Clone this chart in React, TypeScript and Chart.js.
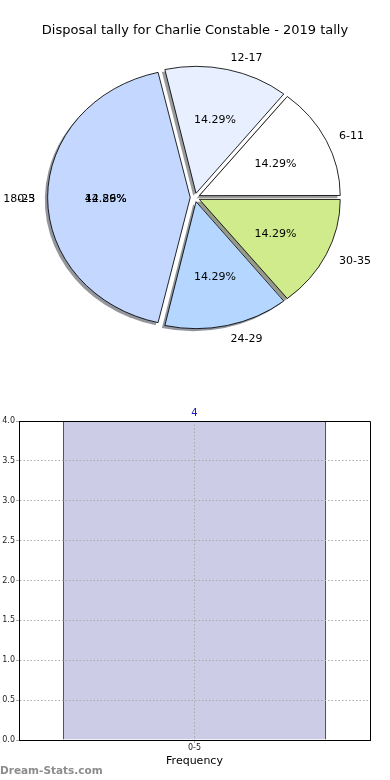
import React, { useEffect, useRef } from 'react';
import { Chart, registerables } from 'chart.js';

Chart.register(...registerables);

const TITLE = 'Disposal tally for Charlie Constable - 2019 tally';

// pie data (matplotlib order, counter-clockwise from 3 o'clock)
const pieCategories = ['6-11', '12-17', '0-5', '24-29', '30-35'];
const pieValues = [1, 1, 3, 1, 1];
const pieColors = ['#ffffff', '#e8f0ff', '#c4d8ff', '#b5d6ff', '#cfeb8b'];
// a second label printed on top of the big wedge in the original
const overlapCategory = '18-23';
const overlapValue = 1;
const overlapHost = '0-5';

// bar data
const barCategories = ['0-5'];
const barValues = [4];
const yTickValues = [0, 0.5, 1, 1.5, 2, 2.5, 3, 3.5, 4];
const xAxisTitle = 'Frequency';
const WATERMARK = 'Dream-Stats.com';

const FAMILY = '"DejaVu Sans", sans-serif';
Chart.defaults.font.family = FAMILY;

const R = 126;
const K = 141 / 127;
const EXPLODE = 4.3;
const SHADOW_DX = -2.8;
const SHADOW_DY = 2.5;
const TEXT_DY = 1.5;

function shadowColor(hex: string) {
  const h = hex.replace('#', '');
  const r = parseInt(h.slice(0, 2), 16);
  const g = parseInt(h.slice(2, 4), 16);
  const b = parseInt(h.slice(4, 6), 16);
  return `rgba(${Math.round(r * 0.3)},${Math.round(g * 0.3)},${Math.round(b * 0.3)},0.55)`;
}

function arcGeom(arc: any) {
  const p = arc.getProps(['x', 'y', 'startAngle', 'endAngle', 'outerRadius', 'circumference']);
  const t = (arc.options.offset || 0) / 4;
  const fix = 1 - Math.sin(Math.min(Math.PI, p.circumference || 0));
  const mid = (p.startAngle + p.endAngle) / 2;
  return { ...p, t, r: p.outerRadius + t * fix, mid };
}

const piePlugin = {
  id: 'ellipsePie',
  beforeDatasetsDraw(chart: any) {
    const ctx = chart.ctx;
    const meta = chart.getDatasetMeta(0);
    const a0 = meta.data[0];
    const cx = a0.x;
    const cy = a0.y;
    ctx.save();
    ctx.translate(cx, cy);
    ctx.scale(K, 1);
    ctx.translate(-cx, -cy);
    meta.data.forEach((arc: any) => {
      const g = arcGeom(arc);
      const ox = g.x + Math.cos(g.mid) * g.t + SHADOW_DX / K;
      const oy = g.y + Math.sin(g.mid) * g.t + SHADOW_DY;
      ctx.beginPath();
      ctx.moveTo(ox, oy);
      ctx.arc(ox, oy, g.r, g.startAngle, g.endAngle);
      ctx.closePath();
      ctx.fillStyle = shadowColor(arc.options.backgroundColor);
      ctx.fill();
    });
  },
  afterDatasetsDraw(chart: any) {
    const ctx = chart.ctx;
    ctx.restore();
    const meta = chart.getDatasetMeta(0);
    const data: number[] = chart.data.datasets[0].data;
    const labels: string[] = chart.data.labels;
    const total = data.reduce((a, b) => a + b, 0);
    ctx.save();
    ctx.fillStyle = '#000';
    ctx.font = `11px ${FAMILY}`;
    ctx.textBaseline = 'middle';
    meta.data.forEach((arc: any, i: number) => {
      const g = arcGeom(arc);
      const c = Math.cos(g.mid);
      const s = Math.sin(g.mid);
      const rr = 127;
      const lx = g.x + K * c * (g.t + 1.1 * rr);
      const ly = g.y + s * (g.t + 1.1 * rr) + TEXT_DY;
      const px = g.x + K * c * (g.t + 0.6 * rr);
      const py = g.y + s * (g.t + 0.6 * rr) + TEXT_DY;
      ctx.textAlign = c > 0.0001 ? 'left' : 'right';
      const texts = [labels[i]];
      const pcts = [(data[i] / total) * 100];
      if (labels[i] === overlapHost) {
        texts.unshift(overlapCategory);
        pcts.unshift((overlapValue / total) * 100);
      }
      texts.forEach((tx) => ctx.fillText(tx, lx, ly));
      ctx.textAlign = 'center';
      pcts.forEach((p) => ctx.fillText(p.toFixed(2) + '%', px, py));
    });
    ctx.restore();
  },
  afterDraw(chart: any) {
    const ctx = chart.ctx;
    ctx.save();
    ctx.fillStyle = '#000';
    ctx.font = `13px ${FAMILY}`;
    ctx.textAlign = 'center';
    ctx.textBaseline = 'middle';
    ctx.fillText(TITLE, 195, 30.5);
    ctx.restore();
  },
};

const barPlugin = {
  id: 'barExtras',
  afterDraw(chart: any) {
    const ctx = chart.ctx;
    const a = chart.chartArea;
    ctx.save();
    ctx.strokeStyle = '#000';
    ctx.lineWidth = 1;
    ctx.beginPath();
    ctx.moveTo(Math.round(a.left) + 0.5, Math.round(a.top) + 0.5);
    ctx.lineTo(Math.round(a.right) + 0.5, Math.round(a.top) + 0.5);
    ctx.lineTo(Math.round(a.right) + 0.5, Math.round(a.bottom) + 0.5);
    ctx.stroke();
    const meta = chart.getDatasetMeta(0);
    const vals: number[] = chart.data.datasets[0].data;
    ctx.fillStyle = '#1c1cb8';
    ctx.font = `10px ${FAMILY}`;
    ctx.textAlign = 'center';
    ctx.textBaseline = 'middle';
    meta.data.forEach((bar: any, i: number) => {
      ctx.fillText(String(vals[i]), bar.x, bar.y - 8);
    });
    ctx.fillStyle = '#8c8c8c';
    ctx.font = `bold 10.5px ${FAMILY}`;
    ctx.textAlign = 'left';
    ctx.fillText(WATERMARK, 0, 376);
    ctx.restore();
  },
};

export default function App() {
  const pieRef = useRef<HTMLCanvasElement>(null);
  const barRef = useRef<HTMLCanvasElement>(null);

  useEffect(() => {
    const order = pieCategories.map((_, i) => i).reverse();
    const pie = new Chart(pieRef.current as HTMLCanvasElement, {
      type: 'pie',
      data: {
        labels: order.map((i) => pieCategories[i]),
        datasets: [
          {
            data: order.map((i) => pieValues[i]),
            backgroundColor: order.map((i) => pieColors[i]),
            borderColor: '#000',
            borderWidth: 0.8,
            borderJoinStyle: 'miter',
            offset: EXPLODE * 4,
            radius: R,
          } as any,
        ],
      },
      options: {
        responsive: false,
        animation: false,
        events: [],
        rotation: 90,
        radius: R,
        layout: { padding: 0 },
        plugins: { legend: { display: false }, tooltip: { enabled: false } },
      } as any,
      plugins: [piePlugin],
    });

    const bar = new Chart(barRef.current as HTMLCanvasElement, {
      type: 'bar',
      data: {
        labels: barCategories,
        datasets: [
          {
            data: barValues,
            backgroundColor: '#ccccE6',
            borderColor: '#1c1c8c',
            borderWidth: 1,
            borderSkipped: 'bottom',
            barPercentage: 0.75,
            categoryPercentage: 1,
          },
        ],
      },
      options: {
        responsive: false,
        animation: false,
        events: [],
        layout: { padding: { left: 0, right: 20, top: 26, bottom: 0 } },
        plugins: { legend: { display: false }, tooltip: { enabled: false } },
        scales: {
          x: {
            grid: { z: 1, offset: false, color: '#ababab', lineWidth: 1, tickLength: 3, tickColor: '#ababab' },
            border: { z: 2, color: '#000', width: 1, dash: [1.5, 2] },
            ticks: { font: { size: 8, family: FAMILY }, color: '#222', padding: 0, maxRotation: 0 },
            title: {
              display: true,
              text: xAxisTitle,
              font: { size: 11, family: FAMILY },
              color: '#000',
              padding: { top: 0, bottom: 12 },
            },
            afterFit: (s: any) => {
              s.height = 40;
            },
          },
          y: {
            min: 0,
            max: 4,
            afterBuildTicks: (s: any) => {
              s.ticks = yTickValues.map((v) => ({ value: v }));
            },
            ticks: {
              callback: (v: any) => Number(v).toFixed(1),
              font: { size: 8, family: FAMILY },
              color: '#222',
              padding: 1,
            },
            grid: { z: 1, color: '#ababab', lineWidth: 1, tickLength: 3, tickColor: '#ababab' },
            border: { z: 2, color: '#000', width: 1, dash: [1.5, 2] },
            afterFit: (s: any) => {
              s.width = 19;
            },
          },
        },
      } as any,
      plugins: [barPlugin],
    });

    return () => {
      pie.destroy();
      bar.destroy();
    };
  }, []);

  return (
    <div style={{ position: 'absolute', left: 0, top: 0, width: 390, height: 780, background: '#fff' }}>
      <canvas ref={pieRef} width={390} height={395} style={{ display: 'block', width: 390, height: 395 }} />
      <canvas ref={barRef} width={390} height={385} style={{ display: 'block', width: 390, height: 385 }} />
    </div>
  );
}
